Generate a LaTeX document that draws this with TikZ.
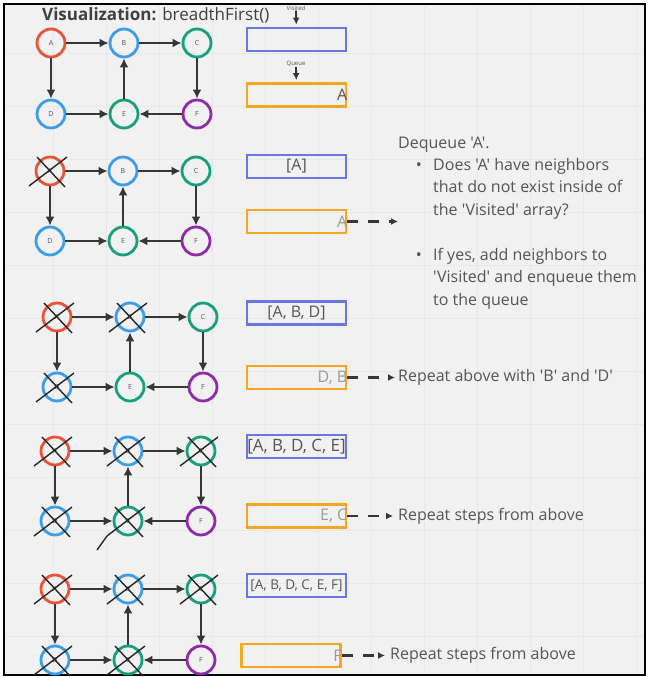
\documentclass[tikz,border=0pt]{standalone}
\usepackage{fontspec}
\setmainfont{Open Sans}[Ligatures=TeXOff]
\usetikzlibrary{arrows.meta}
\definecolor{bggray}{HTML}{F1F1F1}
\definecolor{gridgray}{HTML}{E8E8E8}
\definecolor{edgegray}{HTML}{363636}
\definecolor{txtgray}{HTML}{555555}
\definecolor{qtxtgray}{HTML}{9A9A9A}
\definecolor{nred}{HTML}{E9533A}
\definecolor{nblue}{HTML}{3D9DE8}
\definecolor{ngreen}{HTML}{17A07E}
\definecolor{npurple}{HTML}{8E2BA8}
\definecolor{vblue}{HTML}{6A77E0}
\definecolor{qorange}{HTML}{F5A623}

\begin{document}
\begin{tikzpicture}[x=1pt,y=-1pt]
\tikzset{vertex/.style = {shape=circle,draw,line width=2.8pt,minimum size=28pt,inner sep=0pt,
  font=\fontsize{7}{8}\selectfont,text=txtgray}}
\tikzset{edge/.style = {->,> = {Latex[length=9pt,width=9pt]},line width=2.8pt,draw=edgegray}}
\tikzset{cross/.style = {line width=1.4pt,draw=black!85}}
\tikzset{visitbox/.style = {draw=vblue,line width=2.8pt,minimum width=99pt,minimum height=23pt,
  inner sep=0pt,font=\fontsize{16}{18}\selectfont,text=txtgray}}
\tikzset{queuebox/.style = {draw=qorange,line width=2.8pt,minimum width=99pt,minimum height=23pt,inner sep=0pt}}
\tikzset{qtext/.style = {anchor=east,inner sep=0pt,font=\fontsize{16}{18}\selectfont,text=qtxtgray}}
\tikzset{boxlabel/.style = {inner sep=0pt,font=\fontsize{6}{7}\selectfont,text=txtgray}}
\tikzset{smallarrow/.style = {->,> = {Latex[length=7pt,width=7pt]},line width=1.8pt,draw=edgegray,shorten >=2pt}}
\tikzset{dashedge/.style = {->,> = {Latex[length=7pt,width=7pt]},line width=2.2pt,dash pattern=on 11pt off 10pt,draw=edgegray}}
\tikzset{note/.style = {inner sep=0pt,font=\fontsize{16}{22.5}\selectfont,text=txtgray}}
\useasboundingbox (0,0) rectangle (648,677);
% background
\fill[white] (0,0) rectangle (648,677);
\fill[bggray] (4,4) rectangle (645,675);
\draw[gridgray,line width=0.8pt,step=53pt] (4,4) grid (645,675);
\draw[line width=2pt] (4,4) rectangle (645,675);
% title
\node[anchor=base west,inner sep=0pt,font=\fontsize{17}{20}\selectfont,text=black!75] (title) at (42,21)
  {\textbf{Visualization:} breadthFirst()};
% vertices and edges, one row per step
\foreach \r/\x/\y/\yy in {1/51/43/114, 2/50/171/241, 3/57/317/387, 4/55/451/521, 5/55/589/660}{
  \node[vertex,draw=nred]    (a\r) at (\x,\y)     {A};
  \node[vertex,draw=nblue]   (b\r) at (\x+73,\y)  {B};
  \node[vertex,draw=ngreen]  (c\r) at (\x+146,\y) {C};
  \node[vertex,draw=nblue]   (d\r) at (\x,\yy)     {D};
  \node[vertex,draw=ngreen]  (e\r) at (\x+73,\yy)  {E};
  \node[vertex,draw=npurple] (f\r) at (\x+146,\yy) {F};
  \draw[edge] (a\r) -- (b\r);
  \draw[edge] (b\r) -- (c\r);
  \draw[edge] (a\r) -- (d\r);
  \draw[edge] (c\r) -- (f\r);
  \draw[edge] (d\r) -- (e\r);
  \draw[edge] (f\r) -- (e\r);
  \draw[edge] (e\r) -- (b\r);
}
% crossed out vertices
\foreach \n in {a2,a3,b3,d3,a4,b4,c4,d4,e4,a5,b5,c5,d5,e5}
  \draw[cross] ([shift={(-21,15)}]\n.center) -- ([shift={(17,-14)}]\n.center)
               ([shift={(-13,-14)}]\n.center) -- ([shift={(15,16)}]\n.center);
\draw[cross] ([shift={(-31,29)}]e4.center) -- ([shift={(-21,15)}]e4.center);
% visited and queue boxes
\node[boxlabel] (vlab) at (296,8) {Visited};
\node[boxlabel] (qlab) at (296,64) {Queue};
\node[visitbox] (v1) at (296.5,39.5) {};
\node[visitbox] (v2) at (296.5,166.5) {[A]};
\node[visitbox] (v3) at (296.5,313) {[A, B, D]};
\node[visitbox,font=\fontsize{17}{19}\selectfont] (v4) at (296.5,446.5) {[A, B, D, C, E]};
\node[visitbox,font=\fontsize{13.5}{15}\selectfont] (v5) at (296.5,585.5) {[A, B, D, C, E, F]};
\draw[smallarrow] (vlab) -- (v1);
\node[queuebox] (q1) at (296.5,95) {};
\node[queuebox] (q2) at (296.5,221.5) {};
\node[queuebox] (q3) at (296.5,377.5) {};
\node[queuebox] (q4) at (296.5,516) {};
\node[queuebox] (q5) at (291,655.5) {};
\draw[smallarrow] (qlab) -- (q1);
\node[qtext,text=txtgray] (q1t) at (q1.east) {A};
\node[qtext] (q2t) at (q2.east) {A};
\node[qtext] (q3t) at (q3.east) {D, B};
\node[qtext] (q4t) at (q4.east) {E, C};
\node[qtext] (q5t) at (q5.east) {F};
% dequeue notes
\coordinate (t2) at (398,221.5);
\coordinate (t3) at (395,377.5);
\coordinate (t4) at (393,516);
\coordinate (t5) at (385,655.5);
\draw[dashedge] (q2.east) -- (t2);
\draw[dashedge] (q3.east) -- (t3);
\draw[dashedge] (q4.east) -- (t4);
\draw[dashedge] (q5.east) -- (t5);
\node[note,anchor=base west] (deq) at (398,148) {Dequeue 'A'.};
\node[note,anchor=base] (bul1) at (419,170) {\textbullet};
\node[note,anchor=base] (bul2) at (419,260) {\textbullet};
\node[note,anchor=north west,align=left] (ask) at (433,158)
  {Does 'A' have neighbors\\that do not exist inside of\\the 'Visited' array?};
\node[note,anchor=north west,align=left] (add) at (433,248)
  {If yes, add neighbors to\\'Visited' and enqueue them\\to the queue};
\node[note,anchor=west] (rep3) at (398,377.5) {Repeat above with 'B' and 'D'};
\node[note,anchor=west] (rep4) at (398,516) {Repeat steps from above};
\node[note,anchor=west] (rep5) at (390,655.5) {Repeat steps from above};
\end{tikzpicture}
\end{document}
